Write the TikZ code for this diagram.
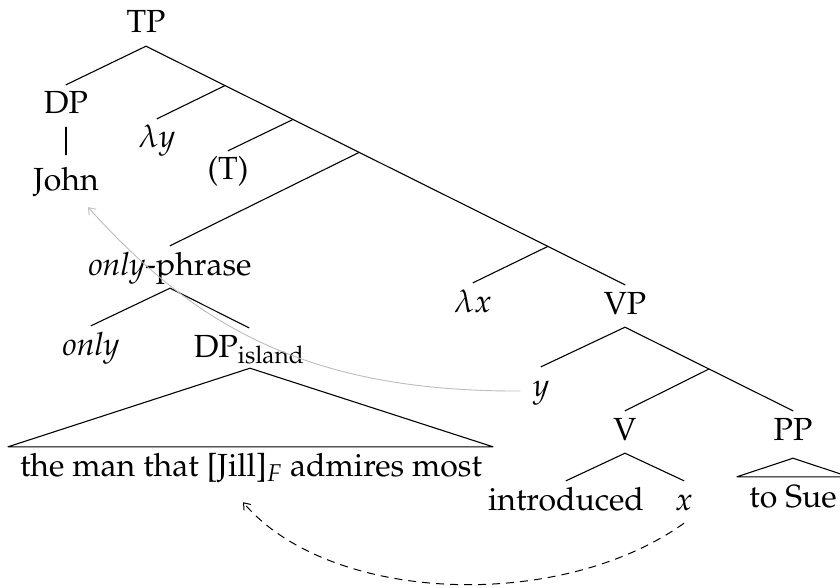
\documentclass[tikz,border=0pt]{standalone}
\usepackage[T1]{fontenc}
\usepackage{mathpazo}
\usetikzlibrary{calc,arrows.meta}

\definecolor{movegray}{RGB}{188,188,188}

\begin{document}
\begin{tikzpicture}[x=1pt,y=-1pt,
  lab/.style={inner xsep=0pt, inner ysep=6pt, text height=23pt, text depth=7pt,
              font=\fontsize{32}{38}\selectfont, anchor=base},
  branch/.style={line width=1.1pt, black, line cap=round},
  movearrow/.style={line width=0.9pt, movegray, -{Straight Barb[length=6pt,width=9pt]}},
  dasharrow/.style={line width=1pt, black, dash pattern=on 8pt off 6pt,
                    -{Straight Barb[length=6pt,width=9pt]}}]
\useasboundingbox (0,0) rectangle (840,588);

% labels of the tree
\node[lab] (TP) at (146,33) {TP};
\node[lab] (DP) at (66,114) {DP};
\node[lab, inner ysep=12pt] (John) at (66,190) {John};
\node[lab] (ly) at (157,148) {$\lambda y$};
\node[lab] (T) at (228,180) {(T)};
\node[lab] (OP) at (170,275) {\textit{only}-phrase};
\node[lab] (only) at (91,355) {\textit{only}};
\node[lab] (DPi) at (249,357) {DP$_{\mathrm{island}}$};
\node[lab] (man) at (251,476) {the man that [Jill]$_F$ admires most};
\node[lab] (lx) at (473,312) {$\lambda x$};
\node[lab] (VP) at (625,314) {VP};
\node[lab] (y) at (541,396) {$y$};
\node[lab] (V) at (625,440) {V};
\node[lab] (PP) at (793,440) {PP};
\node[lab] (intro) at (566,510) {introduced};
\node[lab] (x) at (684,510) {$x$};
\node[lab] (sue) at (793,507) {to Sue};

% branching points on the right spine
\coordinate (j1) at ($(TP.south)!0.165!(VP.north)$);
\coordinate (j2) at ($(TP.south)!0.307!(VP.north)$);
\coordinate (j3) at ($(TP.south)!0.445!(VP.north)$);
\coordinate (j4) at ($(TP.south)!0.839!(VP.north)$);
\coordinate (j5) at ($(VP.south)!0.5!(PP.north)$);

% branches
\draw[branch] (DP.north) -- (TP.south) -- (VP.north);
\draw[branch] (j1) -- (ly.north);
\draw[branch] (j2) -- (T.north);
\draw[branch] (j3) -- (OP.north);
\draw[branch] (j4) -- (lx.north);
\draw[branch] (DP.south) -- (John.north);
\draw[branch] (only.north) -- (OP.south) -- (DPi.north);
\draw[branch] (y.north) -- (VP.south) -- (PP.north);
\draw[branch] (j5) -- (V.north);
\draw[branch] (intro.north) -- (V.south) -- (x.north);

% roofs over unanalysed constituents
\draw[branch, line join=round] ($(DPi.south)+(1,-2)$) -- ($(man.north)+(-243,0)$)
  -- ($(man.north)+(242,0)$) -- cycle;
\draw[branch, line join=round] ($(PP.south)+(0,5)$) -- ($(sue.north)+(-56,-1)$)
  -- ($(sue.north)+(56,-1)$) -- cycle;

% movement arrows
\coordinate (ystart) at ($(y.west)+(-12,3)$);
\coordinate (johnend) at ($(John.south)+(22,-2)$);
\draw[movearrow] (ystart) .. controls (300,392) and (190,320) .. (johnend);

\coordinate (jill) at ($(man.south)+(-8,13)$);
\draw[dasharrow] (x.south) .. controls (560,612) and (330,604) .. (jill);
\end{tikzpicture}
\end{document}
